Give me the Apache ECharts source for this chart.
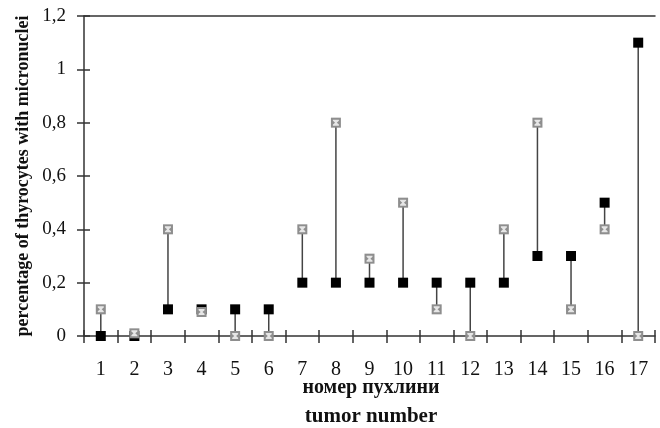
<!DOCTYPE html>
<html>
<head>
<meta charset="utf-8">
<script src="https://cdn.jsdelivr.net/npm/echarts@6/dist/echarts.min.js"></script>
<style>html,body{margin:0;padding:0;background:#fff}#c{width:660px;height:428px}</style>
</head>
<body>
<div id="c"></div>
<script>
const categories = ['1','2','3','4','5','6','7','8','9','10','11','12','13','14','15','16','17'];
const blackValues = [0, 0, 0.1, 0.1, 0.1, 0.1, 0.2, 0.2, 0.2, 0.2, 0.2, 0.2, 0.2, 0.3, 0.3, 0.5, 1.1];
const grayValues  = [0.1, 0.01, 0.4, 0.09, 0, 0, 0.4, 0.8, 0.29, 0.5, 0.1, 0, 0.4, 0.8, 0.1, 0.4, 0];
const yTicks = [0, 0.2, 0.4, 0.6, 0.8, 1, 1.2];
const yAxisName = 'percentage of thyrocytes with micronuclei';
const xAxisName1 = 'номер пухлини';
const xAxisName2 = 'tumor number';

const serif = '"Liberation Serif", "DejaVu Serif", serif';
const axisCol = '#333';

function fmt(v){ return String(Math.round(v*10)/10).replace('.', ','); }

const chart = echarts.init(document.getElementById('c'), null, {renderer:'canvas'});
const pairData = categories.map((c,i)=>[i, blackValues[i], grayValues[i]]);

chart.setOption({
  animation:false,
  backgroundColor:'#fff',
  grid:{left:84, right:5, top:16, bottom:92, containLabel:false, outerBoundsMode:'none'},
  xAxis:[
    {type:'category', data:categories, position:'bottom', boundaryGap:true,
     axisLine:{lineStyle:{color:axisCol, width:1.5}},
     axisTick:{show:true, alignWithLabel:false, length:7, lineStyle:{color:axisCol, width:1.5}},
     axisLabel:{fontFamily:serif, fontSize:20, color:'#111', margin:24},
     splitLine:{show:false}},
    {type:'category', data:categories, position:'bottom', boundaryGap:true,
     axisLine:{show:false},
     axisTick:{show:true, inside:true, length:6, lineStyle:{color:axisCol, width:1.5}},
     axisLabel:{show:false}, splitLine:{show:false}},
    {type:'category', data:categories, position:'top', boundaryGap:true,
     axisLine:{show:true, lineStyle:{color:axisCol, width:1.5}},
     axisTick:{show:false}, axisLabel:{show:false}, splitLine:{show:false}}
  ],
  yAxis:[
    {type:'value', min:0, max:1.2, interval:0.2, position:'left',
     axisLine:{show:true, lineStyle:{color:axisCol, width:1.5}},
     axisTick:{show:true, length:7, lineStyle:{color:axisCol, width:1.5}},
     axisLabel:{fontFamily:serif, fontSize:19, color:'#111', margin:18,
       formatter:(v)=>fmt(v)},
     splitLine:{show:false},
     name:yAxisName, nameLocation:'middle', nameGap:52, nameRotate:90, nameMoveOverlap:false,
     nameTextStyle:{fontFamily:serif, fontSize:18, fontWeight:'bold', color:'#111'}},
    {type:'value', min:0, max:1.2, interval:0.2, position:'left',
     axisLine:{show:false},
     axisTick:{show:true, inside:true, length:6, lineStyle:{color:axisCol, width:1.5}},
     axisLabel:{show:false}, splitLine:{show:false}}
  ],
  graphic:[
    {type:'text', x:371, y:387.5, style:{text:xAxisName1, textAlign:'center', textVerticalAlign:'middle', fontFamily:serif, fontSize:20, fontWeight:'bold', fill:'#111'}},
    {type:'text', x:371, y:417, style:{text:xAxisName2, textAlign:'center', textVerticalAlign:'middle', fontFamily:serif, fontSize:21, fontWeight:'bold', fill:'#111'}}
  ],
  series:[
    {type:'custom', xAxisIndex:0, yAxisIndex:0, data:pairData, z:2,
     renderItem:function(params, api){
       const a = api.coord([api.value(0), api.value(1)]);
       const b = api.coord([api.value(0), api.value(2)]);
       return {type:'line', shape:{x1:a[0], y1:a[1], x2:b[0], y2:b[1]},
         style:{stroke:'#444', lineWidth:1.5}};
     }},
    {type:'scatter', data:blackValues, symbol:'rect', symbolSize:10, z:3,
     itemStyle:{color:'#000', opacity:1}},
    {type:'scatter', data:grayValues, symbol:'rect', symbolSize:10, z:4,
     itemStyle:{color:'#8e8e8e', opacity:1}},
    {type:'scatter', data:grayValues, z:5, symbolSize:[6,6],
     symbol:'path://M0,0 L10,0 L10,2 L6.5,5 L10,8 L10,10 L0,10 L0,8 L3.5,5 L0,2 Z',
     itemStyle:{color:'#e6e6e6', opacity:1}}
  ]
});
</script>
</body>
</html>
